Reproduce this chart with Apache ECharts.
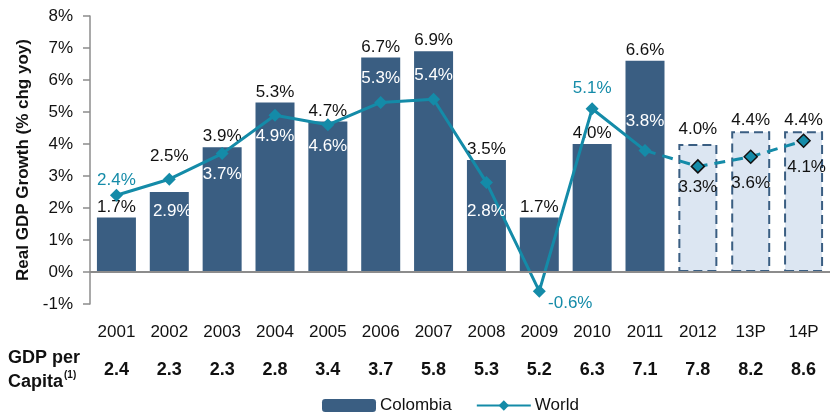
<!DOCTYPE html>
<html>
<head>
<meta charset="utf-8">
<script src="https://cdn.jsdelivr.net/npm/echarts@6/dist/echarts.min.js"></script>
<style>
html,body{margin:0;padding:0;background:#fff;}
#chart{width:830px;height:412px;}
</style>
</head>
<body>
<div id="chart"></div>
<script>
var categories = ['2001','2002','2003','2004','2005','2006','2007','2008','2009','2010','2011','2012','13P','14P'];
var colombia = [1.7, 2.5, 3.9, 5.3, 4.7, 6.7, 6.9, 3.5, 1.7, 4.0, 6.6, 4.0, 4.4, 4.4];
var world = [2.4, 2.9, 3.7, 4.9, 4.6, 5.3, 5.4, 2.8, -0.6, 5.1, 3.8, 3.3, 3.6, 4.1];
var gdpPerCapita = ['2.4','2.3','2.3','2.8','3.4','3.7','5.8','5.3','5.2','6.3','7.1','7.8','8.2','8.6'];
var yTicks = [-1, 0, 1, 2, 3, 4, 5, 6, 7, 8];
var firstForecast = 11; // index of 2012

// label placement styling (offsets relative to default position)
var colombiaLabelOffset = [[0,0],[0,-25],[0,0],[0,0],[0,0],[0,0],[0,0],[0,0],[0,0],[0,0],[0,0],[0,-4],[0,0],[0,0]];
var worldLabelOffset = [[0,-15],[3,32],[0,21],[0,21],[0,22],[0,-24],[0,-24],[0,29],[31,12],[0,-20],[0,-29],[0,21],[0,27],[3,27]];
var worldLabelTone = ['teal','white','white','white','white','white','white','white','teal','teal','white','black','black','black'];

var FONT = 'Liberation Sans, Arial, sans-serif';
var BAR = '#3a5e82';
var TEAL = '#148ba8';
var toneColor = {teal: TEAL, white: '#ffffff', black: '#111111'};

var barData = colombia.map(function(v, i){
  var item = {value: v, label: {offset: colombiaLabelOffset[i]}};
  if (i >= firstForecast) {
    item.itemStyle = {color: '#dce6f2', borderColor: BAR, borderType: [9,5], borderWidth: 2};
  }
  return item;
});

function worldPoint(v, i){
  var item = {
    value: v,
    label: {
      show: true, position: 'inside',
      offset: worldLabelOffset[i],
      color: toneColor[worldLabelTone[i]]
    }
  };
  if (i >= firstForecast) {
    item.itemStyle = {color: TEAL, borderColor: '#111', borderWidth: 1.5};
  }
  return item;
}

var worldSolid = world.map(function(v, i){ return i < firstForecast ? worldPoint(v, i) : null; });
var worldDashed = world.map(function(v, i){
  if (i < firstForecast - 1) return null;
  if (i === firstForecast - 1) return {value: v, symbolSize: 0, label: {show: false}};
  return worldPoint(v, i);
});

var pct = function(p){ return p.value.toFixed(1) + '%'; };

var chart = echarts.init(document.getElementById('chart'));
chart.setOption({
  animation: false,
  textStyle: {fontFamily: FONT},
  grid: {left: 90, top: 16, width: 742, bottom: 108, containLabel: false},
  legend: {
    data: ['Colombia', 'World'],
    left: 317, top: 392,
    itemWidth: 54, itemHeight: 13, itemGap: 24,
    textStyle: {fontFamily: FONT, fontSize: 17, color: '#111', padding: [0,0,0,-1]}
  },
  xAxis: [{
    type: 'category', data: categories, position: 'bottom',
    axisLine: {show: false}, axisTick: {show: false},
    axisLabel: {margin: 20, fontSize: 17, color: '#111', fontFamily: FONT}
  }, {
    type: 'category', data: gdpPerCapita, position: 'bottom',
    axisLine: {show: false}, axisTick: {show: false},
    axisLabel: {margin: 57, fontSize: 18, fontWeight: 'bold', color: '#111', fontFamily: FONT}
  }],
  yAxis: {
    type: 'value', min: yTicks[0], max: yTicks[yTicks.length-1], interval: 1,
    name: 'Real GDP Growth (% chg yoy)', nameLocation: 'middle', nameGap: 57,
    nameTextStyle: {fontSize: 17, fontWeight: 'bold', color: '#111', fontFamily: FONT},
    axisLine: {show: true, lineStyle: {color: '#8c8c8c', width: 1.5}},
    axisTick: {show: true, length: 7, lineStyle: {color: '#8c8c8c', width: 1.5}},
    splitLine: {show: false},
    axisLabel: {formatter: '{value}%', fontSize: 17, color: '#111', margin: 17, fontFamily: FONT}
  },
  graphic: [{
    type: 'text', left: 8, top: 346,
    style: {
      text: 'GDP per\n{n|Capita}{s|(1)}',
      fontSize: 18, fontWeight: 'bold', fill: '#111', fontFamily: FONT, lineHeight: 24,
      rich: {
        n: {fontSize: 18, fontWeight: 'bold', fontFamily: FONT, lineHeight: 24},
        s: {fontSize: 10, fontWeight: 'bold', fontFamily: FONT, verticalAlign: 'top', padding: [0,0,8,1]}
      }
    }
  }],
  series: [{
    name: 'Colombia', type: 'bar', data: barData, barWidth: 39,
    itemStyle: {color: BAR},
    label: {show: true, position: 'top', distance: 2, formatter: pct,
      fontSize: 17, color: '#111', fontFamily: FONT},
    markLine: {
      silent: true, symbol: 'none', label: {show: false},
      lineStyle: {color: '#8c8c8c', width: 2, type: 'solid'},
      data: [{yAxis: 0}]
    },
    z: 1
  }, {
    name: 'World', type: 'line', data: worldSolid, connectNulls: false,
    symbol: 'diamond', symbolSize: 13,
    lineStyle: {color: TEAL, width: 3},
    itemStyle: {color: TEAL},
    label: {fontSize: 17, fontFamily: FONT, formatter: pct},
    z: 3
  }, {
    name: 'World forecast', type: 'line', data: worldDashed,
    symbol: 'diamond', symbolSize: 13,
    lineStyle: {color: TEAL, width: 3, type: [11,7]},
    itemStyle: {color: TEAL},
    label: {fontSize: 17, fontFamily: FONT, formatter: pct},
    z: 3
  }]
});
</script>
</body>
</html>
